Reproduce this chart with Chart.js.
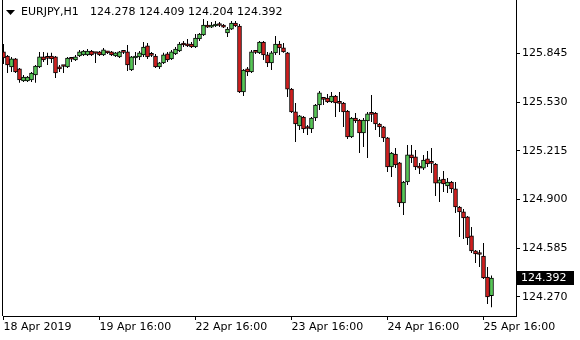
<!DOCTYPE html>
<html>
<head>
<meta charset="utf-8">
<script src="https://cdn.jsdelivr.net/npm/chart.js@4.4.1/dist/chart.umd.min.js"></script>
<style>
  html, body { margin: 0; padding: 0; background: #fff; }
  #wrap { width: 580px; height: 340px; }
</style>
</head>
<body>
<div id="wrap"><canvas id="chart" width="580" height="340"></canvas></div>
<script>
const SYMBOL = 'EURJPY,H1';

// hourly candles, 18 Apr 16:00 .. 25 Apr 2019
const opens = [
  125.855, 125.829, 125.758, 125.810, 125.745, 125.668, 125.668, 125.674, 125.706, 125.758,
  125.823, 125.816, 125.829, 125.823, 125.758, 125.764, 125.758, 125.810, 125.803, 125.829,
  125.836, 125.836, 125.861, 125.849, 125.855, 125.836, 125.855, 125.855, 125.829, 125.823,
  125.855, 125.855, 125.738, 125.816, 125.823, 125.836, 125.894, 125.836, 125.829, 125.758,
  125.784, 125.842, 125.810, 125.842, 125.861, 125.906, 125.906, 125.906, 125.887, 125.939,
  125.965, 126.029, 126.016, 126.023, 126.029, 126.029, 125.978, 126.003, 126.042, 126.023,
  125.596, 125.745, 125.725, 125.855, 125.849, 125.919, 125.836, 125.784, 125.849, 125.906,
  125.881, 125.849, 125.615, 125.467, 125.376, 125.434, 125.363, 125.357, 125.428, 125.512,
  125.551, 125.557, 125.531, 125.570, 125.525, 125.525, 125.473, 125.305, 125.428, 125.415,
  125.331, 125.409, 125.454, 125.460, 125.389, 125.370, 125.299, 125.111, 125.195, 125.137,
  124.878, 125.014, 125.189, 125.176, 125.117, 125.104, 125.163, 125.137, 125.130, 125.007,
  125.033, 124.988, 125.014, 124.969, 124.852, 124.820, 124.788, 124.665, 124.568, 124.548,
  124.535, 124.399, 124.278
];
const highs = [
  125.906, 125.836, 125.823, 125.816, 125.751, 125.706, 125.700, 125.725, 125.771, 125.855,
  125.855, 125.849, 125.849, 125.829, 125.771, 125.771, 125.823, 125.816, 125.836, 125.868,
  125.868, 125.874, 125.868, 125.855, 125.861, 125.881, 125.861, 125.861, 125.855, 125.861,
  125.861, 125.900, 125.829, 125.855, 125.861, 125.919, 125.913, 125.855, 125.842, 125.790,
  125.849, 125.855, 125.868, 125.887, 125.919, 125.926, 125.939, 125.919, 125.971, 125.978,
  126.068, 126.055, 126.049, 126.055, 126.049, 126.036, 126.016, 126.055, 126.055, 126.036,
  125.745, 125.758, 125.868, 125.868, 125.926, 125.926, 125.855, 125.861, 125.958, 125.926,
  125.913, 125.855, 125.622, 125.525, 125.447, 125.441, 125.383, 125.434, 125.518, 125.603,
  125.564, 125.583, 125.596, 125.577, 125.596, 125.531, 125.480, 125.434, 125.460, 125.421,
  125.428, 125.467, 125.577, 125.467, 125.396, 125.376, 125.305, 125.208, 125.234, 125.143,
  125.020, 125.253, 125.253, 125.221, 125.137, 125.189, 125.214, 125.234, 125.137, 125.046,
  125.085, 125.040, 125.020, 125.014, 124.859, 124.839, 124.794, 124.723, 124.574, 124.574,
  124.619, 124.464, 124.409
];
const lows = [
  125.777, 125.719, 125.725, 125.719, 125.655, 125.661, 125.661, 125.661, 125.655, 125.751,
  125.790, 125.771, 125.784, 125.687, 125.725, 125.719, 125.751, 125.790, 125.797, 125.823,
  125.829, 125.829, 125.829, 125.784, 125.829, 125.829, 125.842, 125.829, 125.823, 125.816,
  125.842, 125.732, 125.732, 125.771, 125.803, 125.823, 125.810, 125.823, 125.751, 125.745,
  125.777, 125.790, 125.803, 125.836, 125.855, 125.887, 125.887, 125.881, 125.881, 125.926,
  125.958, 126.010, 126.010, 126.016, 126.016, 126.010, 125.952, 125.997, 126.016, 125.590,
  125.570, 125.700, 125.719, 125.842, 125.842, 125.803, 125.758, 125.738, 125.836, 125.836,
  125.849, 125.564, 125.460, 125.273, 125.350, 125.331, 125.318, 125.331, 125.409, 125.480,
  125.512, 125.525, 125.525, 125.434, 125.467, 125.370, 125.292, 125.299, 125.396, 125.201,
  125.240, 125.169, 125.402, 125.350, 125.305, 125.273, 125.079, 125.046, 125.104, 124.852,
  124.800, 124.994, 125.137, 125.091, 125.065, 125.091, 125.111, 125.072, 124.923, 124.884,
  124.949, 124.943, 124.943, 124.813, 124.658, 124.645, 124.606, 124.555, 124.490, 124.464,
  124.386, 124.225, 124.204
];
const closes = [
  125.816, 125.771, 125.810, 125.725, 125.674, 125.693, 125.693, 125.719, 125.764, 125.823,
  125.803, 125.813, 125.810, 125.719, 125.745, 125.761, 125.816, 125.808, 125.823, 125.855,
  125.861, 125.861, 125.836, 125.845, 125.836, 125.868, 125.849, 125.836, 125.849, 125.855,
  125.852, 125.771, 125.823, 125.829, 125.849, 125.887, 125.823, 125.833, 125.758, 125.784,
  125.836, 125.803, 125.855, 125.874, 125.906, 125.900, 125.894, 125.887, 125.945, 125.971,
  126.029, 126.016, 126.029, 126.036, 126.026, 126.016, 126.003, 126.042, 126.023, 125.596,
  125.738, 125.725, 125.855, 125.852, 125.919, 125.836, 125.784, 125.849, 125.906, 125.881,
  125.855, 125.615, 125.467, 125.389, 125.441, 125.357, 125.360, 125.428, 125.512, 125.590,
  125.548, 125.531, 125.570, 125.525, 125.522, 125.467, 125.305, 125.428, 125.409, 125.331,
  125.415, 125.454, 125.451, 125.389, 125.370, 125.299, 125.111, 125.201, 125.124, 124.878,
  125.014, 125.189, 125.169, 125.111, 125.104, 125.156, 125.130, 125.134, 125.007, 125.027,
  125.001, 125.014, 124.969, 124.852, 124.820, 124.781, 124.652, 124.568, 124.548, 124.545,
  124.393, 124.270, 124.392
];

const timeTickIndex = [0, 24, 48, 72, 96, 120];
const timeTickLabels = ['18 Apr 2019', '19 Apr 16:00', '22 Apr 16:00', '23 Apr 16:00', '24 Apr 16:00', '25 Apr 16:00'];
const priceTicks = [125.845, 125.530, 125.215, 124.900, 124.585, 124.270];

const BULL = '#55c655';
const BEAR = '#d01e1e';
const FONT = { family: 'DejaVu Sans', size: 11 };

const ctx = document.getElementById('chart').getContext('2d');
const idx = opens.map((_, i) => i);
const last = opens.length - 1;

const overlay = {
  id: 'overlay',
  afterDraw(chart) {
    const c = chart.ctx;
    const area = chart.chartArea;
    const y = chart.scales.y;
    c.save();
    // left frame
    c.fillStyle = '#000';
    c.fillRect(area.left - 1, area.top, 1, area.bottom - area.top);

    // header: symbol + last bar OHLC
    c.beginPath();
    c.moveTo(6, 10);
    c.lineTo(15, 10);
    c.lineTo(10.5, 15);
    c.closePath();
    c.fill();
    c.font = '11px "DejaVu Sans"';
    c.textBaseline = 'middle';
    c.textAlign = 'left';
    c.fillText(SYMBOL, 21, 12);
    const ohlc = [opens[last], highs[last], lows[last], closes[last]].map(v => v.toFixed(3)).join(' ');
    c.fillText(ohlc, 90, 12);

    // current price marker
    const py = y.getPixelForValue(closes[last]);
    c.fillRect(y.left + 1, Math.round(py) - 7, 57, 14);
    c.fillStyle = '#fff';
    c.fillText(closes[last].toFixed(3), y.left + 5, Math.round(py));
    c.restore();
  }
};

new Chart(ctx, {
  type: 'bar',
  data: {
    datasets: [
      {
        data: idx.map(i => ({ x: i, y: [opens[i], closes[i]] })),
        backgroundColor: idx.map(i => closes[i] >= opens[i] ? BULL : BEAR),
        borderColor: '#000',
        borderWidth: 1,
        borderSkipped: false,
        minBarLength: 2,
        grouped: false,
        barPercentage: 1,
        categoryPercentage: 1
      },
      {
        data: idx.map(i => ({ x: i, y: [lows[i], highs[i]] })),
        backgroundColor: '#000',
        borderWidth: 0,
        grouped: false,
        barPercentage: 0.25,
        categoryPercentage: 1
      }
    ]
  },
  options: {
    responsive: false,
    animation: false,
    layout: { padding: { left: 3, top: 0, right: 0, bottom: 0 } },
    plugins: {
      legend: { display: false },
      tooltip: { enabled: false }
    },
    scales: {
      x: {
        type: 'linear',
        min: -0.125,
        max: 128.125,
        offset: false,
        grid: { offset: false, drawOnChartArea: false, tickLength: 4, color: '#000' },
        border: { color: '#000' },
        afterBuildTicks: s => { s.ticks = timeTickIndex.map(v => ({ value: v })); },
        ticks: {
          align: 'start',
          autoSkip: false,
          maxRotation: 0,
          padding: 1,
          color: '#000',
          font: FONT,
          callback: v => timeTickLabels[timeTickIndex.indexOf(v)]
        },
        afterFit: s => { s.height = 24; s.paddingLeft = 0; s.paddingRight = 0; }
      },
      y: {
        position: 'right',
        min: 124.147,
        max: 126.191,
        beginAtZero: false,
        grid: { drawOnChartArea: false, tickLength: 4, color: '#000' },
        border: { color: '#000' },
        afterBuildTicks: s => { s.ticks = priceTicks.map(v => ({ value: v })); },
        ticks: {
          padding: 2,
          color: '#000',
          font: FONT,
          callback: v => v.toFixed(3)
        },
        afterFit: s => { s.width = 64; s.paddingTop = 0; s.paddingBottom = 0; }
      }
    }
  },
  plugins: [overlay]
});
</script>
</body>
</html>
